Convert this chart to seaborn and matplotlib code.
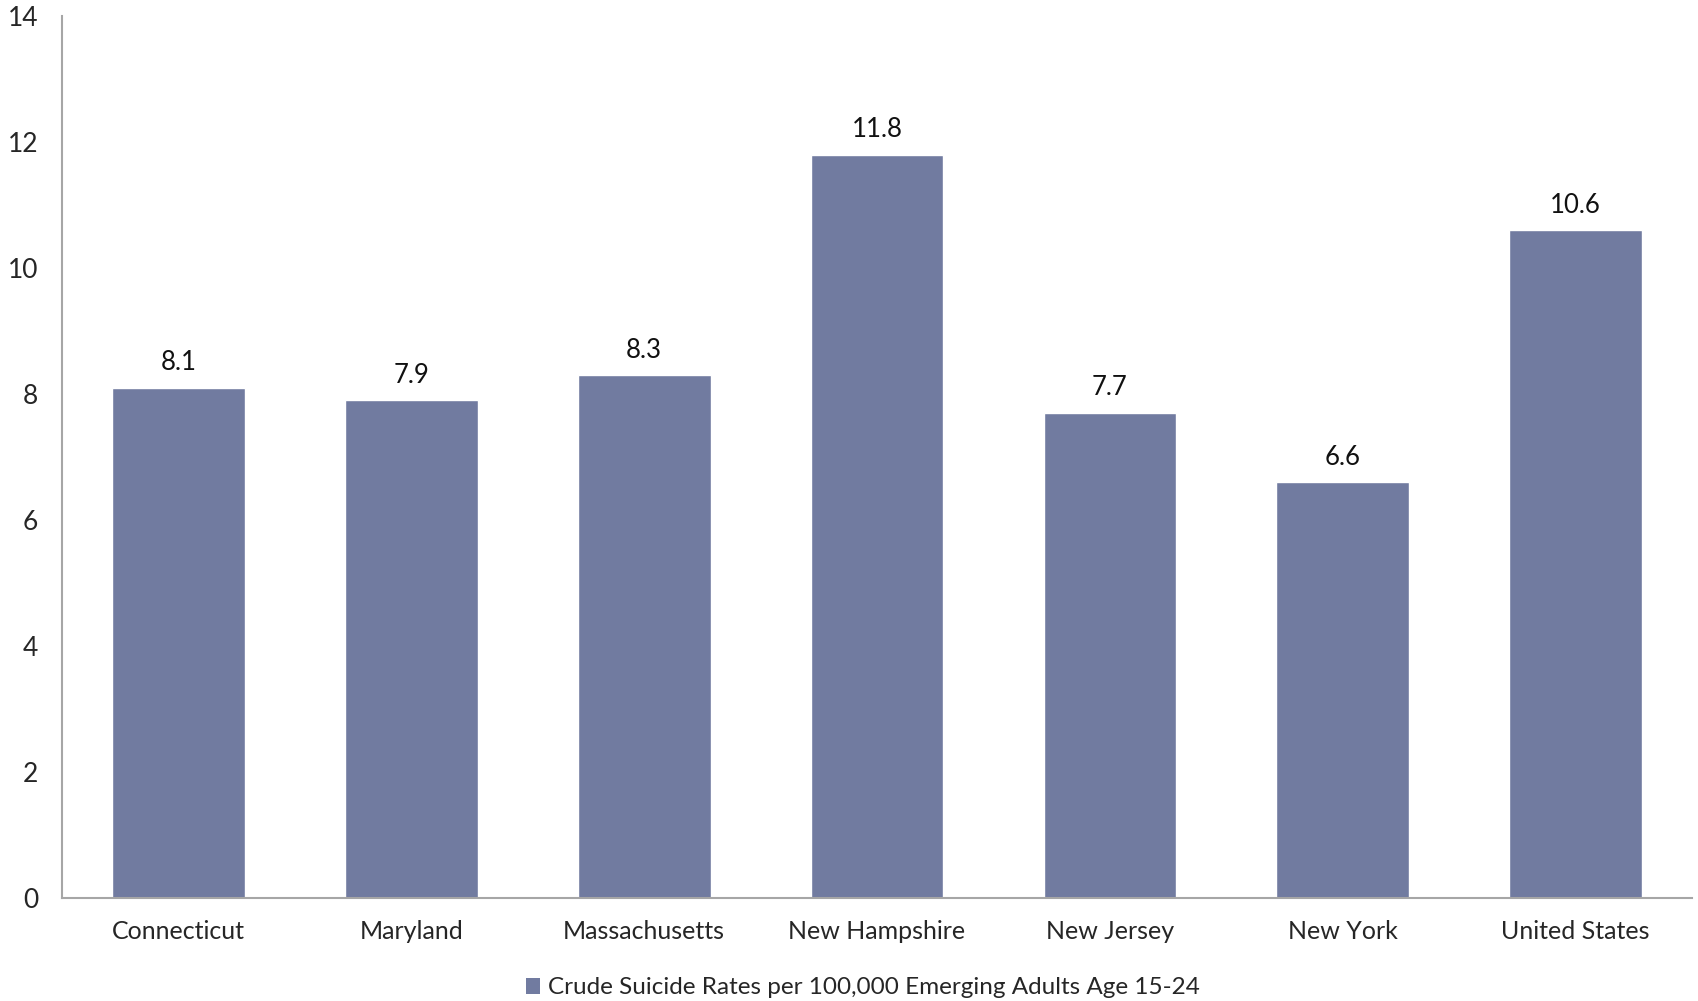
import matplotlib
matplotlib.use("Agg")
import matplotlib.pyplot as plt
from matplotlib.patches import Patch
import seaborn as sns
import pandas as pd

states = ["Connecticut", "Maryland", "Massachusetts", "New Hampshire",
          "New Jersey", "New York", "United States"]
rates = [8.1, 7.9, 8.3, 11.8, 7.7, 6.6, 10.6]
series_name = "Crude Suicide Rates per 100,000 Emerging Adults Age 15-24"
yticks = [0, 2, 4, 6, 8, 10, 12, 14]

bar_color = "#717BA0"
axis_color = "#A6A6A6"

sns.set_style("white")
plt.rcParams["font.family"] = ["Lato", "DejaVu Sans"]

df = pd.DataFrame({"state": states, "rate": rates})

fig = plt.figure(figsize=(16.98, 10.01), dpi=100)
ax = fig.add_axes([0.0365, 0.103, 0.96, 0.881])

sns.barplot(data=df, x="state", y="rate", color=bar_color, width=0.57,
            saturation=1, ax=ax)

ax.set_ylim(0, 14)
ax.set_xlim(-0.5, len(states) - 0.5)
ax.set_yticks(yticks)
ax.set_yticklabels([str(t) for t in yticks], fontsize=19)
ax.tick_params(axis="x", labelsize=18, length=0, pad=16)
ax.tick_params(axis="y", length=0, pad=17)
ax.set_xlabel("")
ax.set_ylabel("")

for side in ("top", "right"):
    ax.spines[side].set_visible(False)
for side in ("left", "bottom"):
    ax.spines[side].set_color(axis_color)
    ax.spines[side].set_linewidth(1.5)

for i, v in enumerate(rates):
    ax.annotate(f"{v}", (i, v), xytext=(0, 9), textcoords="offset points",
                ha="center", va="bottom", fontsize=18.5, color="#111111")

handle = Patch(facecolor=bar_color, edgecolor="none")
fig.legend([handle], [series_name], loc="center", bbox_to_anchor=(0.508, 0.013),
           frameon=False, fontsize=17.5, handlelength=0.6, handleheight=0.6,
           handletextpad=0.3)

fig.savefig("out.png", dpi=100)
